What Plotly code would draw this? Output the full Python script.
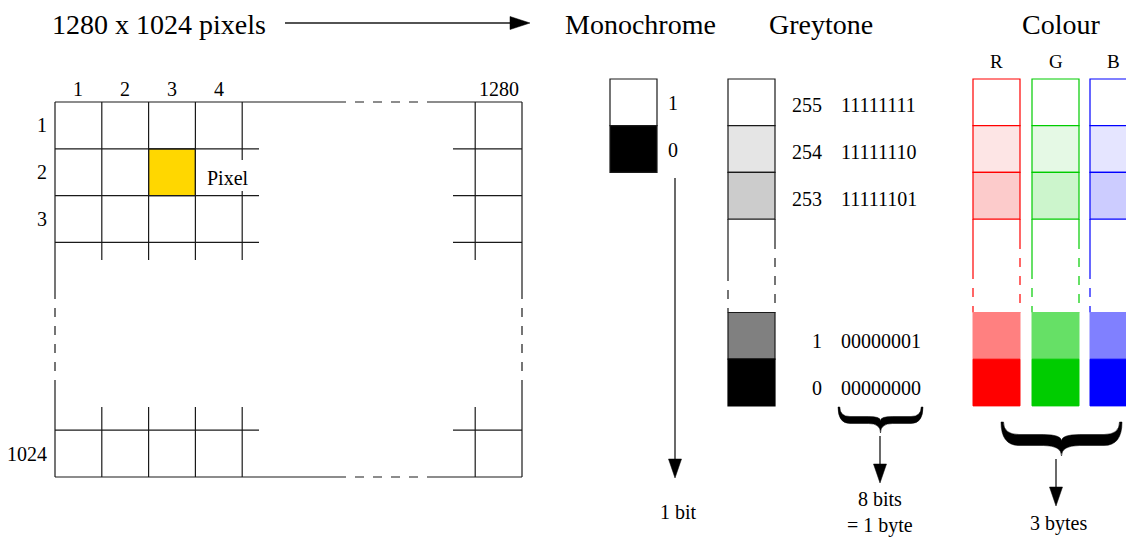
import plotly.graph_objects as go

# ---------------- data ----------------
grid_col_labels = ["1", "2", "3", "4"]
grid_last_col_label = "1280"
grid_row_labels = ["1", "2", "3"]
grid_last_row_label = "1024"
highlight_cell = (3, 2)          # (column, row) of the highlighted pixel
highlight_label = "Pixel"
title_text = "1280 x 1024 pixels"

mono_values = ["1", "0"]
grey_values_top = [255, 254, 253]
grey_values_bottom = [1, 0]
channels = ["R", "G", "B"]

section_titles = ["Monochrome", "Greytone", "Colour"]
size_labels = ["1 bit", "8 bits<br>= 1 byte", "3 bytes"]

# ---------------- styles ----------------
mono_fills = ["#ffffff", "#000000"]
grey_fills_top = ["#ffffff", "#e5e5e5", "#cccccc"]
grey_fills_bottom = ["#808080", "#000000"]
channel_colors = ["#ff0000", "#00cc00", "#0000ff"]
channel_fills_top = [["#ffffff", "#fde5e5", "#fccbcb"],
                     ["#ffffff", "#e5f9e5", "#ccf5cc"],
                     ["#ffffff", "#e5e5ff", "#ccccff"]]
channel_fills_bottom = [["#ff8080", "#ff0000"],
                        ["#66e066", "#00cc00"],
                        ["#8080ff", "#0000ff"]]
FONT = "Liberation Serif, Times New Roman, serif"
LC = "#1a1a1a"

shapes = []
annotations = []


def line(x0, y0, x1, y1, color=LC, width=1.2, dash="solid"):
    shapes.append(dict(type="line", x0=x0, y0=y0, x1=x1, y1=y1, xref="x", yref="y",
                       line=dict(color=color, width=width, dash=dash)))


def rect(x0, y0, x1, y1, fill, color=LC, width=1.2):
    shapes.append(dict(type="rect", x0=x0, y0=y0, x1=x1, y1=y1, xref="x", yref="y",
                       fillcolor=fill, line=dict(color=color, width=width), layer="above"))


def path(d, fill="#000000"):
    shapes.append(dict(type="path", path=d, xref="x", yref="y", fillcolor=fill,
                       line=dict(color=fill, width=0.5)))


def text(x, y, s, size=20, xanchor="center", yanchor="middle", bg=None):
    a = dict(x=x, y=y, xref="x", yref="y", text=s, showarrow=False, xanchor=xanchor,
             yanchor=yanchor, font=dict(family=FONT, size=size, color="#000000"))
    if bg:
        a["bgcolor"] = bg
    annotations.append(a)


def arrow_down(x, y0, y1, hl=19, hw=6.5):
    line(x, y0, x, y1 - hl + 2, width=1.3)
    path(f"M {x - hw},{y1 - hl} L {x + hw},{y1 - hl} L {x},{y1} Z")


def brace(L, R, top, tip, yc, t, q, e=1.8):
    M = (L + R) / 2
    lo, up = yc + t / 2, yc - t / 2
    d = (f"M {L},{top} Q {L},{lo} {L + q},{lo} L {M - q},{lo} Q {M},{lo} {M},{tip} "
         f"Q {M},{lo} {M + q},{lo} L {R - q},{lo} Q {R},{lo} {R},{top} "
         f"L {R - e},{top} Q {R - e},{up} {R - q},{up} L {M + q},{up} Q {M},{up} {M},{yc + t * 0.1} "
         f"Q {M},{up} {M - q},{up} L {L + q},{up} Q {L + e},{up} {L + e},{top} Z")
    path(d)


# ---------------- title row ----------------
text(50, 24, title_text, size=28, xanchor="left")
line(285, 23, 512, 23, width=1.3)
path("M 510,16.5 L 510,29.5 L 530,23 Z")
for s, cx in zip(section_titles, [640, 821, 1061]):
    text(cx, 24, s, size=28)

# ---------------- pixel grid ----------------
gx0, gy0, cell = 55, 102, 46.8
gx1, gy1 = 522, 477
ncols = len(grid_col_labels)
nrows = len(grid_row_labels)
xs = [gx0 + cell * i for i in range(ncols + 1)]
ys = [gy0 + cell * j for j in range(nrows + 1)]
last_col_x = gx1 - cell
last_row_y = gy1 - cell

# highlighted pixel
hc, hr = highlight_cell
rect(xs[hc - 1], ys[hr - 1], xs[hc], ys[hr], "#ffd700")

# outer frame with dashed gaps
line(gx0, gy0, 337, gy0)
line(337, gy0, 430, gy0, dash="dash")
line(430, gy0, gx1, gy0)
line(gx0, gy1, 337, gy1)
line(337, gy1, 430, gy1, dash="dash")
line(430, gy1, gx1, gy1)
for x in (gx0, gx1):
    line(x, gy0, x, 290)
    line(x, 290, x, 385, dash="dash")
    line(x, 385, x, gy1)

# interior lines
for j in range(1, nrows + 1):
    line(gx0, ys[j], 259, ys[j])
    line(453, ys[j], gx1, ys[j])
for i in range(1, ncols + 1):
    if i == ncols:
        line(xs[i], gy0, xs[i], 160)
        line(xs[i], 191, xs[i], 260)
    else:
        line(xs[i], gy0, xs[i], 260)
    line(xs[i], 407, xs[i], gy1)
line(last_col_x, gy0, last_col_x, 260)
line(last_col_x, 407, last_col_x, gy1)
line(gx0, last_row_y, 259, last_row_y)
line(453, last_row_y, gx1, last_row_y)

# grid labels
for i, s in enumerate(grid_col_labels):
    text((xs[i] + xs[i + 1]) / 2, 89, s)
text((last_col_x + gx1) / 2, 89, grid_last_col_label)
for j, s in enumerate(grid_row_labels):
    text(42, (ys[j] + ys[j + 1]) / 2, s)
text(49, (last_row_y + gy1) / 2, grid_last_row_label, xanchor="right")
text(228, 178, highlight_label)

# ---------------- monochrome ----------------
mx0, mx1, my0, mh = 610, 657, 79, 46.7
for k, (v, f) in enumerate(zip(mono_values, mono_fills)):
    rect(mx0, my0 + mh * k, mx1, my0 + mh * (k + 1), f)
    text(673, my0 + mh * k + mh / 2 + 1, v)
arrow_down(675, 178, 478)
text(678, 512, size_labels[0])

# ---------------- greytone ----------------
cx0, cx1, cy0, ch = 728, 775, 79, 46.7
for k, (v, f) in enumerate(zip(grey_values_top, grey_fills_top)):
    rect(cx0, cy0 + ch * k, cx1, cy0 + ch * (k + 1), f)
    yy = cy0 + ch * k + ch / 2 + 3
    text(824, yy, str(v), xanchor="right")
    text(839, yy, format(v, "08b"), xanchor="left")
top_end = cy0 + ch * 3
bot_start = 312.5
line(cx0, top_end, cx0, 272)
line(cx0, 272, cx0, bot_start, dash="dash")
line(cx1, top_end, cx1, 240)
line(cx1, 240, cx1, bot_start, dash="dash")
for k, (v, f) in enumerate(zip(grey_values_bottom, grey_fills_bottom)):
    rect(cx0, bot_start + ch * k, cx1, bot_start + ch * (k + 1), f, color=f if k == 1 else LC)
    yy = bot_start + ch * k + ch / 2 + 5
    text(824, yy, str(v), xanchor="right")
    text(839, yy, format(v, "08b"), xanchor="left")
brace(838, 923, 407, 433, 420, 7, 12)
arrow_down(880, 436, 483)
text(880, 512.5, size_labels[1], size=20)

# ---------------- colour ----------------
col_x = [973, 1032, 1090]
cw = 47
for n, (name, col) in enumerate(zip(channels, channel_colors)):
    x0 = col_x[n]
    x1 = x0 + cw
    text(x0 + cw / 2, 61, name, size=19)
    for k in range(3):
        rect(x0, cy0 + ch * k, x1, cy0 + ch * (k + 1), channel_fills_top[n][k], color=col)
    line(x0, top_end, x0, 270, color=col)
    line(x0, 270, x0, bot_start, color=col, dash="dash")
    line(x1, top_end, x1, 240, color=col)
    line(x1, 240, x1, bot_start, color=col, dash="dash")
    for k in range(2):
        f = channel_fills_bottom[n][k]
        rect(x0, bot_start + ch * k, x1, bot_start + ch * (k + 1), f, color=f, width=1)
brace(1001, 1122, 422, 456, 440, 11, 18, e=2.5)
arrow_down(1056, 459, 506)
text(1058, 523, size_labels[2])

# The page body adds an 8 px offset; shift the axis ranges so that
# data coordinates line up with the reference picture's pixels.
OFF = 8
fig = go.Figure()
fig.add_trace(go.Scatter(x=[OFF], y=[OFF], mode="markers", marker=dict(opacity=0),
                         hoverinfo="skip", showlegend=False))
fig.update_layout(
    width=1134, height=538,
    margin=dict(l=0, r=0, t=0, b=0),
    paper_bgcolor="#ffffff", plot_bgcolor="#ffffff",
    xaxis=dict(range=[OFF, 1134 + OFF], visible=False, fixedrange=True),
    yaxis=dict(range=[538 + OFF, OFF], visible=False, fixedrange=True),
    shapes=shapes, annotations=annotations, showlegend=False,
)
fig.write_html("out.html")
